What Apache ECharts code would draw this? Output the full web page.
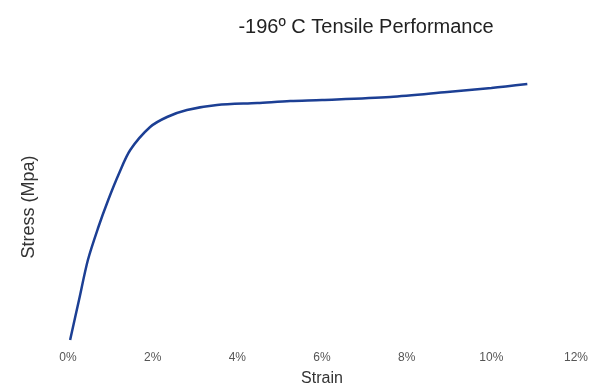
<!DOCTYPE html>
<html>
<head>
<meta charset="utf-8">
<script src="https://cdn.jsdelivr.net/npm/echarts@6/dist/echarts.min.js"></script>
<style>
  html, body { margin: 0; padding: 0; background: #fff; }
  #chart { width: 610px; height: 388px; }
</style>
</head>
<body>
<div id="chart"></div>
<script>
// strain (%) and stress (MPa)
var strain = [0.05, 0.26, 0.47, 0.71, 0.95, 1.21, 1.47, 1.94, 2.34, 2.81, 3.52, 4.47, 5.25, 6.0, 7.61, 8.96, 10.0, 10.85];
var stress = [0, 200, 400, 560, 700, 835, 950, 1065, 1115, 1150, 1175, 1185, 1195, 1200, 1215, 1240, 1260, 1280];
var xTicks = [0, 2, 4, 6, 8, 10, 12];

var points = [];
for (var i = 0; i < strain.length; i++) {
  points.push([strain[i], stress[i]]);
}

var chart = echarts.init(document.getElementById('chart'));

var option = {
  animation: false,
  title: {
    text: '-196º C Tensile Performance',
    left: 361,
    textAlign: 'center',
    top: 12,
    textStyle: { fontFamily: 'Liberation Sans', fontSize: 20, fontWeight: 'normal', color: '#222' }
  },
  grid: { left: 68, right: 34, top: 60, bottom: 48, outerBoundsMode: 'none' },
  xAxis: {
    type: 'value',
    min: xTicks[0],
    max: xTicks[xTicks.length - 1],
    interval: 2,
    name: 'Strain',
    nameLocation: 'middle',
    nameGap: 31,
    nameTextStyle: { fontFamily: 'Liberation Sans', fontSize: 16, color: '#333' },
    axisLine: { show: false },
    axisTick: { show: false },
    splitLine: { show: false },
    axisLabel: {
      formatter: '{value}%',
      margin: 12,
      fontFamily: 'Liberation Sans',
      fontSize: 12,
      color: '#555'
    }
  },
  yAxis: {
    type: 'value',
    min: 0,
    max: 1400,
    name: 'Stress (Mpa)',
    nameLocation: 'middle',
    nameGap: 30,
    nameTextStyle: { fontFamily: 'Liberation Sans', fontSize: 18, color: '#333', padding: [0, 14, 0, 0] },
    axisLine: { show: false },
    axisTick: { show: false },
    splitLine: { show: false },
    axisLabel: { show: false }
  },
  series: [
    {
      type: 'line',
      data: points,
      smooth: 0.3,
      showSymbol: false,
      lineStyle: { color: '#1c3f94', width: 2.5 }
    }
  ]
};

chart.setOption(option);
</script>
</body>
</html>
